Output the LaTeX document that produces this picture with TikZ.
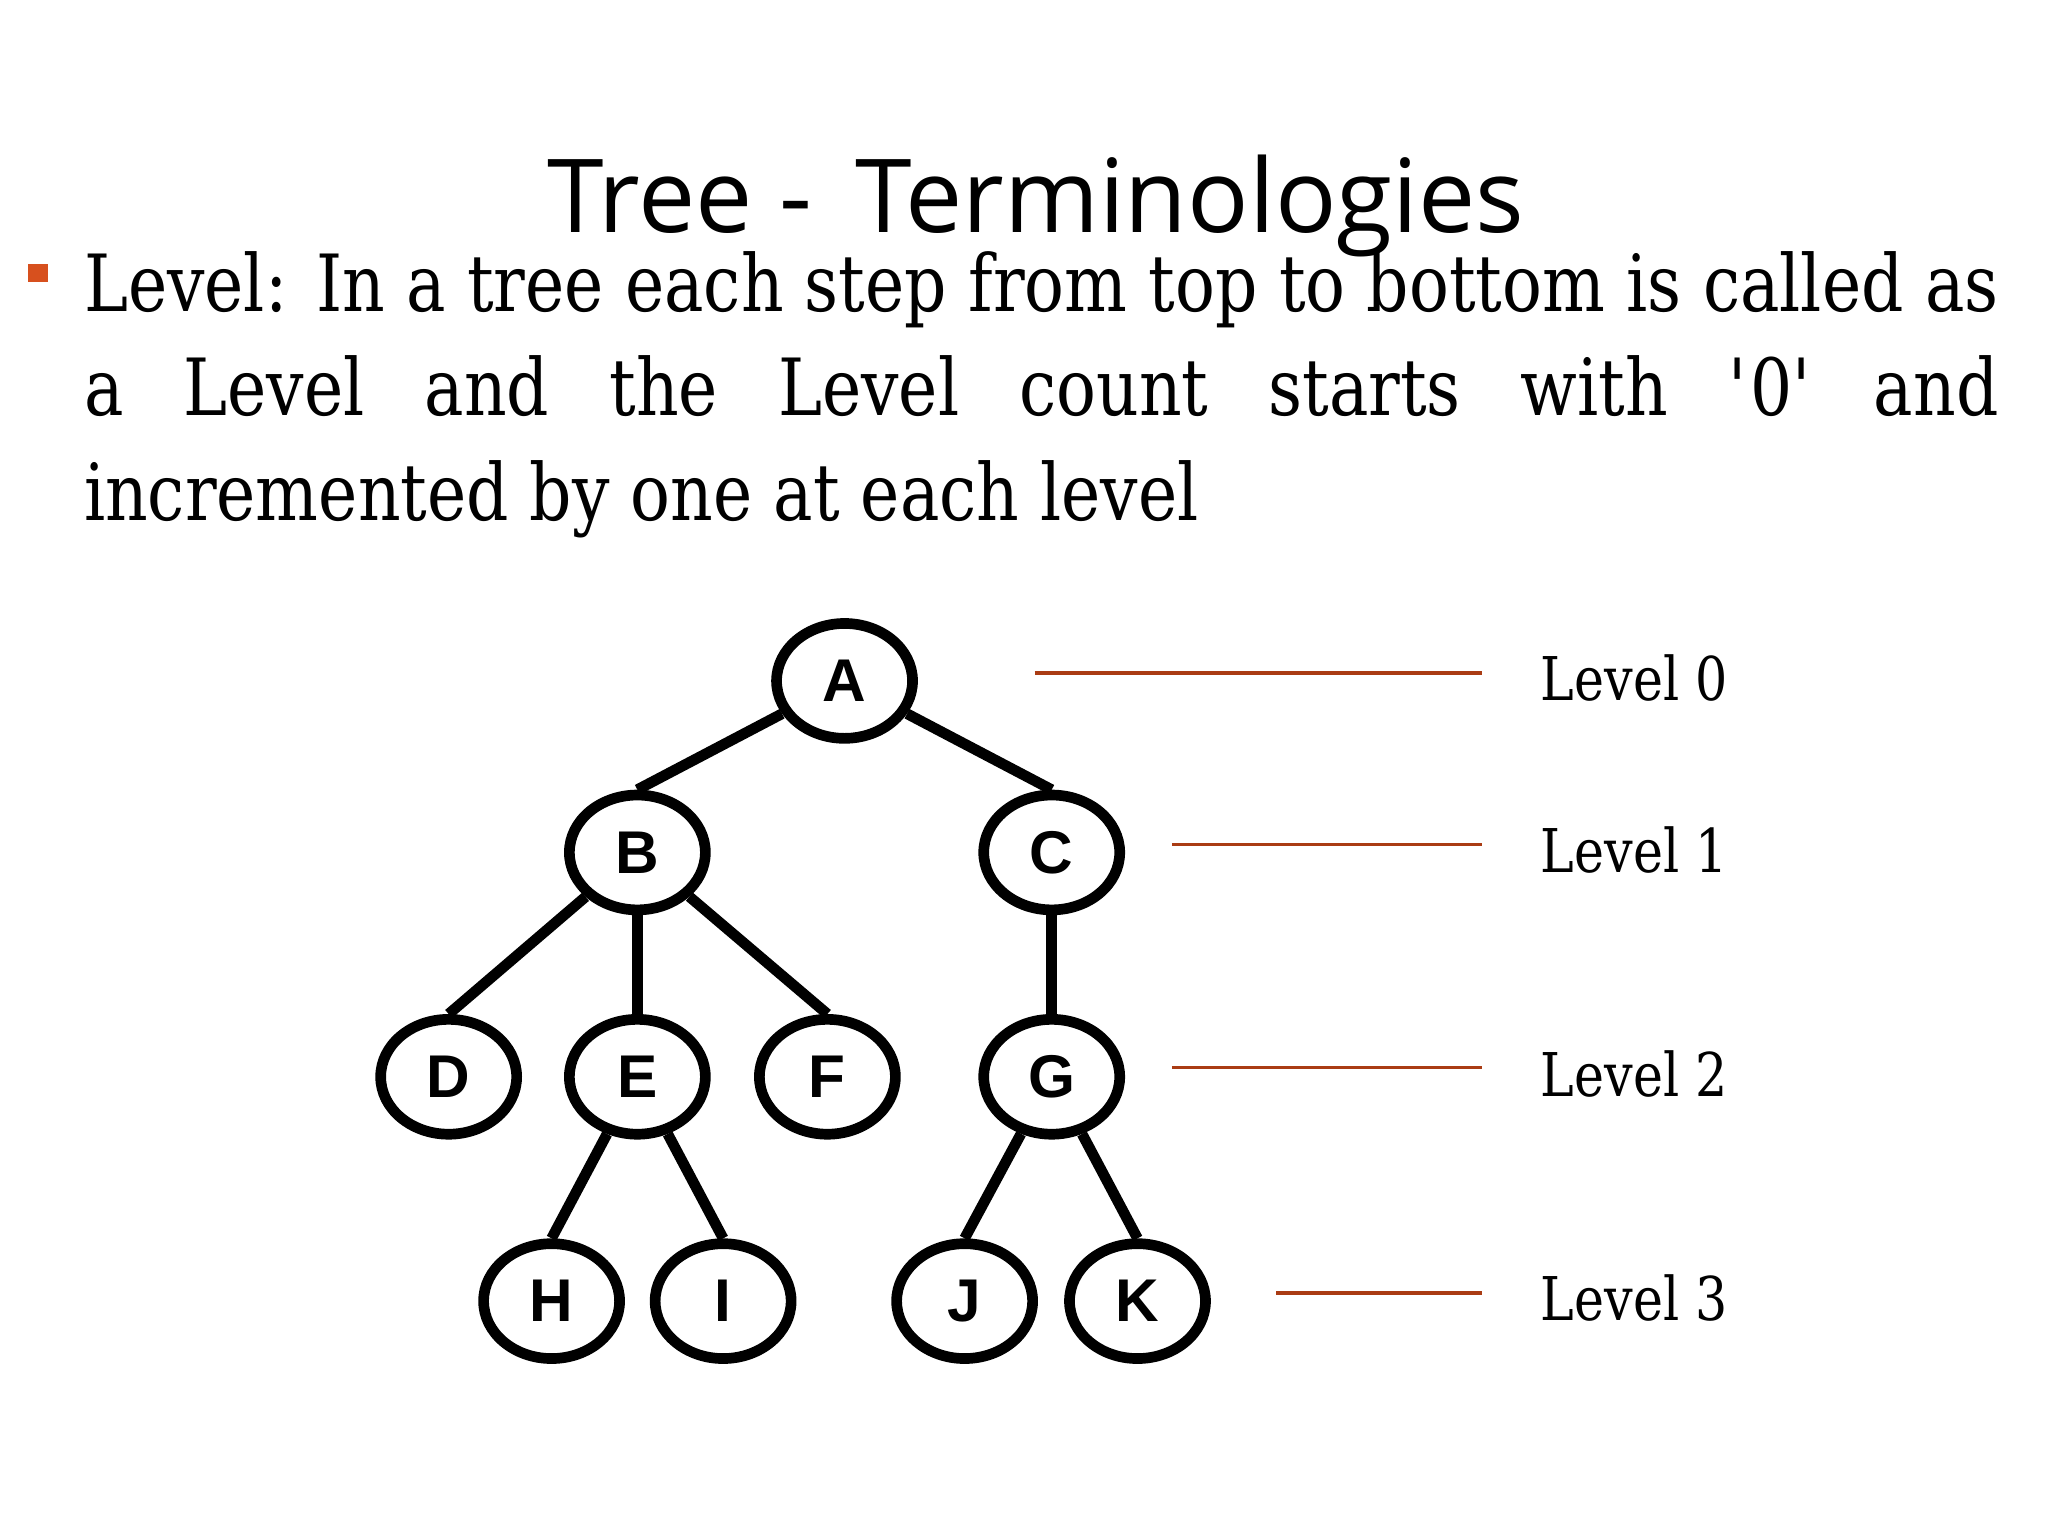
\documentclass[tikz,border=0pt]{standalone}
\usepackage{fontspec}
\setmainfont{DejaVu Serif}[FakeStretch=0.84]
\newfontfamily\titlefont{Open Sans}
\setsansfont{Liberation Sans}
\usetikzlibrary{shapes.geometric}
\definecolor{lvl}{RGB}{170,60,20}
\definecolor{bul}{RGB}{215,80,30}
\begin{document}
\begin{tikzpicture}[x=0.01cm,y=-0.01cm,
  tn/.style={ellipse,draw=black,line width=2.3pt,minimum width=1.03cm,minimum height=0.87cm,inner sep=0pt,font=\sffamily\bfseries\fontsize{13}{13}\selectfont},
  ed/.style={line width=2.3pt},
  lv/.style={draw=lvl,line width=0.8pt},
  lt/.style={anchor=west,inner sep=0pt,font=\fontsize{13}{13}\selectfont}]
\useasboundingbox (0,0) rectangle (1552,1164);
\node (title) at (785,156) {\titlefont\fontsize{22}{22}\selectfont Tree -\, Terminologies};
\fill[bul] (21,200) rectangle (36,214) coordinate (bu);
\node[anchor=north west,inner sep=0pt,text width=14.5cm,align=justify,font=\fontsize{17}{22.5}\selectfont] (body) at (63,190)
 {\hyphenpenalty=10000 Level: In a tree each step from top to bottom is called as\linebreak a Level and the Level count starts with \textquotesingle 0\textquotesingle\ and\linebreak incremented by one at each level};
\node[tn] (A) at (640,516) {A};
\node[tn] (B) at (483,646) {B};
\node[tn] (C) at (797,646) {C};
\node[tn] (D) at (340,816) {D};
\node[tn] (E) at (483,816) {E};
\node[tn] (F) at (627,816) {F};
\node[tn] (G) at (797,816) {G};
\node[tn] (H) at (418,986) {H};
\node[tn] (I) at (548,986) {I};
\node[tn] (J) at (731,986) {J};
\node[tn] (K) at (862,986) {K};
\foreach \a/\b in {A/B,A/C,B/D,B/E,B/F,C/G,E/H,E/I,G/J,G/K} \draw[ed] (\a) -- (\b.north);
\coordinate (l0a) at (784,510); \coordinate (l0b) at (1123,510);
\coordinate (l1a) at (888,640); \coordinate (l1b) at (1123,640);
\coordinate (l2a) at (888,809); \coordinate (l2b) at (1123,809);
\coordinate (l3a) at (967,980); \coordinate (l3b) at (1123,980);
\foreach \i in {0,1,2,3} \draw[lv] (l\i a) -- (l\i b);
\node[lt] (t0) at (1167,514) {Level 0};
\node[lt] (t1) at (1167,644) {Level 1};
\node[lt] (t2) at (1167,814) {Level 2};
\node[lt] (t3) at (1167,984) {Level 3};
\end{tikzpicture}
\end{document}
